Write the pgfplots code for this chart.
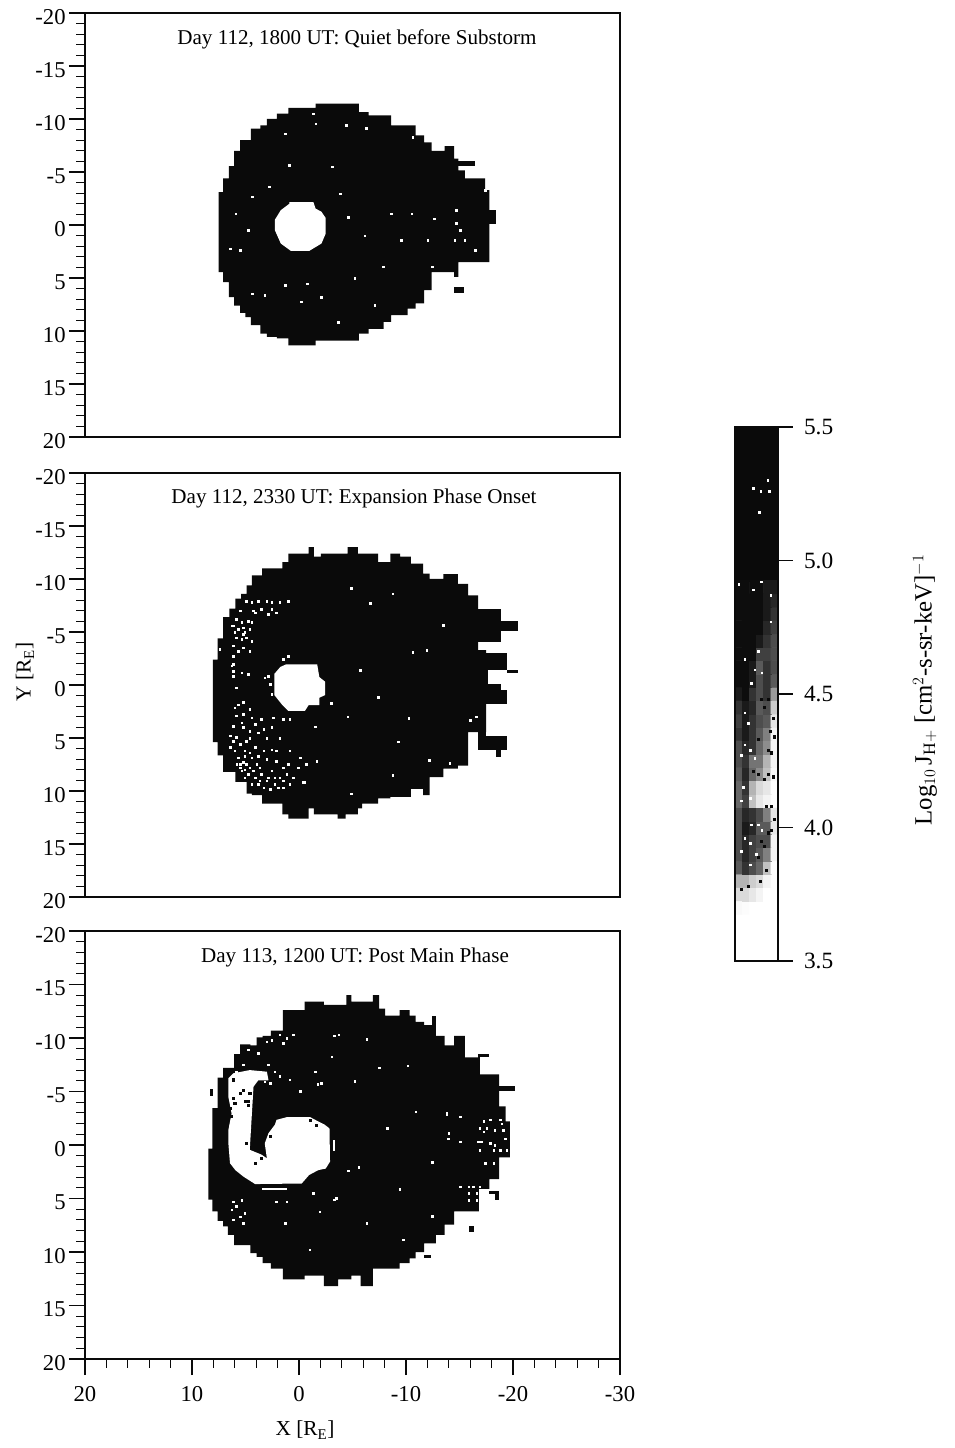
\documentclass[border=0pt]{standalone}
\usepackage{fontspec}
\setmainfont{Liberation Serif}
\usepackage{pgfplots}
\pgfplotsset{compat=1.18}
\definecolor{ink}{gray}{0.04}
\pgfplotsset{
  panel/.style={
    scale only axis, width=401.25pt, at={(63.75pt,0)}, anchor=south west,
    xmin=-30, xmax=20, ymin=-20, ymax=20, x dir=reverse, y dir=reverse,
    axis line style={line width=1.1pt, color=ink}, axis on top,
    ytick={-20,-15,-10,-5,0,5,10,15,20},
    yticklabels={-20,-15,-10,-5,0,5,10,15,20},
    minor y tick num=4,
    ytick pos=left,
    tick align=outside,
    major tick length=12pt, minor tick length=6.5pt,
    every tick/.style={ink, line width=0.8pt},
    minor tick style={ink, line width=0.8pt},
    tick label style={font=\fontsize{17}{17}\selectfont},
    yticklabel style={yshift=-3pt, xshift=1pt},
    clip=true},
  ox/.style={const plot, fill=ink, draw=none},
  rect/.style={fill=ink, draw=none},
  wh/.style={fill=white, draw=none},
  spk/.style={only marks, mark=square*, mark size=0.6pt, color=white, mark options={draw=none, fill=white}},
  dk/.style={only marks, mark=square*, mark size=0.8pt, color=ink, mark options={draw=none, fill=ink}}
}
\begin{document}
\begin{tikzpicture}
\path[use as bounding box] (0,0) rectangle (715.5pt,1086pt);

% ---------- Panel 1
\begin{axis}[panel, height=318pt, at={(63.75pt,758.25pt)}, xtick=\empty]
\addplot[ox] coordinates {(7.52,-3.1)(7.1,-4.4)(6.56,-5.55)(6.07,-7)(5.5,-8)(5,-8)(4.5,-9.1)(3.6,-9.4)(3,-10)(2.06,-10.5)(1,-11.05)(0.15,-11.05)(-1.56,-11.45)(-5.6,-10.65)(-6.5,-10.35)(-7.9,-10.35)(-8.6,-9.4)(-10.15,-9.4)(-10.9,-8.45)(-11.7,-7.8)(-12.4,-7)(-13.6,-7.45)(-14.5,-6.25)(-14.9,-5.15)(-15.5,-4.4)(-15.9,-4.4)(-17.4,-3.3)(-17.8,-3.3)
 (-17.8,3.5)(-17.4,3.5)(-15.9,3.5)(-15.5,3.5)(-14.9,4.9)(-14.5,4.45)(-13.6,4.45)(-12.4,6.15)(-11.7,7.4)(-10.9,7.9)(-10.15,8.5)(-8.6,9.15)(-7.9,9.8)(-6.5,10.25)(-5.6,10.9)(-1.56,11.35)(0.15,11.35)(1,10.7)(2.06,10.55)(3,10.25)(3.6,9.45)(4.5,8.7)(5,8.3)(5.5,7.6)(6.07,6.8)(6.56,5.4)(7.1,4.45)(7.52,2.4)} -- cycle;
\addplot[rect] coordinates {(-17.7,-1.4)(-18.4,-1.4)(-18.4,-0.1)(-17.7,-0.1)} -- cycle;
\addplot[rect] coordinates {(-14.9,-6)(-16.45,-6)(-16.45,-5.55)(-14.9,-5.55)} -- cycle;
\addplot[rect] coordinates {(-14.5,5.85)(-15.4,5.85)(-15.4,6.4)(-14.5,6.4)} -- cycle;
\addplot[wh] coordinates {(0.9,-2.15)(-1.35,-2.15)(-1.55,-1.55)(-2.1,-1.25)(-2.5,-0.65)(-2.5,0.8)(-2.1,1.75)(-0.95,2.45)(0.75,2.45)(1.7,1.75)(2.25,0.5)(2.25,-0.5)(1.7,-1.4)(0.9,-2)} -- cycle;
\addplot[spk] coordinates {(-10.65,-8.3)(-3.1,-5.5)(-3.85,-2.95)(0.9,-5.65)(3.2,6.65)(-0.8,5.55)(-5.2,5.05)(-6.15,1)(-4.6,-0.75)(-14.7,-1.4)(-17.4,-3.25)(-14.55,1.45)(-10.55,-1.05)(-12.65,-0.6)(-7.85,3.95)(-7.1,7.55)(-0.2,7.25)(6.45,2.25)(5.5,2.4)(4.75,0.5)(5.9,-1.05)(4.35,-2.65)(2.8,-3.6)(-1.55,-9.55)(-4.4,-9.4)(-6.3,-9.1)(-1.35,-10.5)(1.3,-8.6)(-16.45,2.4)(-15.1,0.5)(-15.5,1.45)(-9.55,1.45)(-12.45,3.95)(-3.65,9.15)(-2.1,6.8)(-12.05,1.45)(-8.6,-1.05)(-14.7,-0.15)(4.35,6.5)(1.3,5.7)};
\end{axis}

% ---------- Panel 2
\begin{axis}[panel, height=318pt, at={(63.75pt,413.25pt)}, xtick=\empty]
\addplot[ox] coordinates {(8.05,-2.4)(7.6,-4.4)(7.1,-6.4)(6.5,-7.2)(5.95,-8.15)(5.4,-8.6)(4.9,-9.4)(4.4,-10.35)(3.45,-11)(2.5,-11)(1.55,-11.6)(1,-12.4)(-0.55,-12.4)(-0.9,-13)(-1.4,-12.1)(-2.05,-12.4)(-3.6,-12.4)(-4.35,-12.4)(-4.55,-13)(-5.5,-12.4)(-5.9,-12.4)(-7.4,-11.6)(-8.55,-12.4)(-9.45,-12.1)(-10.45,-11.45)(-11.6,-10.5)(-12.2,-10)(-13.5,-10.45)(-14.85,-9.55)(-15.8,-8.45)(-16.75,-3.3)(-17.5,-3.3)
 (-17.5,4.45)(-16.75,4.45)(-15.8,7.6)(-14.85,7.9)(-13.5,8.7)(-12.2,10.4)(-11.6,9.8)(-10.45,10.55)(-9.45,10.55)(-8.55,10.7)(-7.4,11.2)(-5.9,11.65)(-5.5,12.2)(-4.55,12.2)(-4.35,12.6)(-3.6,12.2)(-2.05,12.2)(-1.4,11.65)(-0.9,12.6)(-0.55,12.6)(1,12.2)(1.55,11.2)(2.5,11.2)(3.45,10.4)(4.4,10.25)(4.9,9.15)(5.4,9.15)(5.95,8.2)(6.5,8.2)(7.1,6.65)(7.6,5.4)(8.05,2.8)} -- cycle;
\addplot[rect] coordinates {(-16.75,-7.2)(-18.85,-7.2)(-18.85,-4.05)(-16.75,-4.05)} -- cycle;
\addplot[rect] coordinates {(-18.85,-6)(-20.5,-6)(-20.5,-5.1)(-18.85,-5.1)} -- cycle;
\addplot[rect] coordinates {(-17.4,-3.05)(-19.4,-3.05)(-19.4,-1.45)(-17.4,-1.45)} -- cycle;
\addplot[rect] coordinates {(-19.4,-1.45)(-20.5,-1.45)(-20.5,-1.15)(-19.4,-1.15)} -- cycle;
\addplot[rect] coordinates {(-17.4,-3.05)(-17.7,-3.05)(-17.7,1.75)(-17.4,1.75)} -- cycle;
\addplot[rect] coordinates {(-17.6,-0.1)(-18.85,-0.1)(-18.85,1.75)(-17.6,1.75)} -- cycle;
\addplot[rect] coordinates {(-18.85,0.45)(-19.4,0.45)(-19.4,1.75)(-18.85,1.75)} -- cycle;
\addplot[rect] coordinates {(-17.4,1.7)(-17.5,1.7)(-17.5,4.5)(-17.4,4.5)} -- cycle;
\addplot[rect] coordinates {(-16.7,4.4)(-17.5,4.4)(-17.5,6.15)(-16.7,6.15)} -- cycle;
\addplot[rect] coordinates {(-17.5,4.8)(-19.4,4.8)(-19.4,6.15)(-17.5,6.15)} -- cycle;
\addplot[rect] coordinates {(-18.45,6.1)(-18.85,6.1)(-18.85,6.75)(-18.45,6.75)} -- cycle;
\addplot[wh] coordinates {(1.2,-1.95)(-1.7,-1.95)(-1.9,-0.75)(-2.45,-0.3)(-2.45,0.95)(-1.9,1.2)(-1.9,1.9)(-0.9,1.9)(-0.55,2.45)(1,2.45)(1.55,1.9)(2.3,0.95)(2.3,-1.05)(1.75,-1.7)} -- cycle;
\addplot[spk] coordinates {(4.9,-7.9)(4.4,-7.8)(3.8,-7.9)(3,-7.9)(2.55,-7.8)(1.8,-7.8)(1,-7.9)(5.5,-7)(4.25,-7)(2.85,-6.7)(2.1,-6.8)(6.15,-5.6)(5.7,-5.25)(5.2,-5.4)(4.6,-5.25)(5.35,-4.3)(4.9,-4.45)(6.15,-3.7)(5.2,-3.5)(4.6,-3.2)(6.15,-2.7)(6.3,-1.8)(6.15,-0.85)(5.35,-1.15)(5.85,0.25)(5.85,2.9)(5.2,2.75)(4.4,3.1)(6.15,3.9)(5.2,4)(4.6,4.35)(4.1,3.7)(6.15,5.3)(5.5,5.6)(4.9,5.3)(4.1,5.9)(5.7,6.85)(5.2,7.3)(4.6,7.8)(3.95,7.5)(5.35,8.1)(4.75,8.4)(4.1,8.75)(3.8,9.35)(3,9.05)(2.55,8.1)(1.8,8.75)(1.15,8.4)(0.85,9.35)(1.95,9.7)(2.7,9.85)(3.65,7.8)(3,7)(2.1,7.2)(1.45,7.8)(6.45,5.9)(6,6.2)(3.3,6.2)(2.55,6.1)(1.8,5)(-0.4,9.2)(-0.7,7.5)(-1.65,7.2)(-0.1,6.85)(0.85,6.2)(2.85,-0.85)(2.7,-0.05)(2.55,0.9)(3.2,-0.7)(1,-2.7)(1.45,-2.4)(0.85,3.25)(1.45,3.25)(2.4,3.1)(5.05,6.7)(5.8,7.5)(4.9,7.5)(4.4,6.85)(5.5,7.8)(5.05,8.75)(4.4,9.35)(3.65,9.05)(3.3,9.7)(2.25,8.75)(1.45,9.05)(5.2,-4.8)(6,-5)(4.75,-6)
 (6.45,4.8)(5.85,4.95)(4.6,5)(3.8,4.5)(3.3,4.2)(5.05,6.2)(4.6,6.4)(3.8,6.7)(5.5,7.5)(5.05,8)(4.25,8.1)(3.5,8.4)(2.85,8.75)(2.25,9.35)(1.45,9.7)(0.55,8.75)(0.05,7.8)(1,7.5)(2.1,6.2)(3,5)(2.55,4)(3.5,3.25)(5.35,3.55)(5.85,-6.2)(6.3,-5.6)(5.35,-5.9)(4.4,-5.9)(4.1,-6.8)(3.5,-7.15)(2.55,-7.15)(5.05,-4.95)(5.85,-4.45)(4.4,-4.15)(5.65,-3.2)(7.4,-3.35)(6.15,-1.95)(6.15,-1.3)(4.75,-1)(5.65,1.85)(5.2,1.65)(4.6,2.3)(6,2.15)
 (-11.95,-3.25)(-10.25,3.15)(-9.3,5.35)(-7.4,1.15)(-5.7,-1.4)(-4.9,-9.1)(-6.65,-7.7)(-13.5,-5.65)(-16.55,3)(-16,3.3)(-10.65,-3.1)(-4.55,3)(-3,1.75)(-0.55,9.15)(-8.75,8.5)(-14.1,7.4)(-8.75,-8.6)(-12.15,7.1)(-4.9,10.25)(-1.5,3.95)};
\end{axis}

% ---------- Panel 3
\begin{axis}[panel, height=321pt, at={(63.75pt,66.75pt)},
  xtick={-30,-20,-10,0,10,20}, xticklabels={-30,-20,-10,0,10,20},
  minor x tick num=4, xtick pos=bottom, xticklabel style={yshift=-5pt}]
\addplot[ox] coordinates {(8.47,0.35)(8.1,-3.45)(7.6,-6.3)(7.1,-7.2)(6.64,-7.2)(6.07,-8.5)(5.5,-9.4)(4.54,-9.3)(3.97,-10.05)(3.4,-10.2)(2.63,-10.7)(1.5,-12.6)(0.15,-12.6)(-0.53,-13.4)(-1.76,-13.4)(-2.33,-13.1)(-3.66,-13.1)(-4.43,-14)(-4.9,-13.4)(-5.76,-13.4)(-6.34,-13.4)(-6.9,-14)(-7.48,-12.75)(-8.05,-12.1)(-9.4,-12.6)(-10.34,-12.1)(-10.9,-11.5)(-11.7,-11.2)(-12.8,-10.2)(-13.6,-9.3)(-14.5,-10.2)(-15.5,-8.2)(-16.8,-6.6)(-17.8,-6.6)(-18.7,-3.6)(-19.3,-2.2)(-19.7,-2.2)
 (-19.7,1.15)(-19.3,1.15)(-18.7,3.2)(-17.8,4.1)(-16.8,6.2)(-15.5,6.2)(-14.5,7.45)(-13.6,8.4)(-12.8,9.2)(-11.7,10)(-10.9,10.6)(-10.34,11.05)(-9.4,11.55)(-8.05,11.55)(-7.48,11.55)(-6.9,13.2)(-6.34,13.2)(-5.76,12.2)(-4.9,12.55)(-4.43,12.55)(-3.66,13.2)(-2.33,12.2)(-1.76,12.2)(-0.53,12.55)(0.15,12.55)(1.5,11.55)(2.63,11.05)(3.4,10.45)(3.97,10.1)(4.54,9.35)(5.5,9.35)(6.07,8.4)(6.64,7.6)(7.1,7.1)(7.6,6.2)(8.1,5.1)(8.47,3.2)} -- cycle;
\addplot[rect] coordinates {(-18.7,-5.55)(-20.2,-5.55)(-20.2,-5.05)(-18.7,-5.05)} -- cycle;
\addplot[rect] coordinates {(-16.8,-8.5)(-17.8,-8.5)(-17.8,-8.2)(-16.8,-8.2)} -- cycle;
\addplot[rect] coordinates {(-16.7,-8.5)(-16.9,-8.5)(-16.9,-6.5)(-16.7,-6.5)} -- cycle;
\addplot[rect] coordinates {(-12.4,-12.1)(-12.8,-12.1)(-12.8,-11.1)(-12.4,-11.1)} -- cycle;
\addplot[rect] coordinates {(-17.8,4.3)(-18.7,4.3)(-18.7,4.6)(-17.8,4.6)} -- cycle;
\addplot[rect] coordinates {(-18.3,4.6)(-18.7,4.6)(-18.7,5.1)(-18.3,5.1)} -- cycle;
\addplot[rect] coordinates {(-15.9,7.6)(-16.4,7.6)(-16.4,8.1)(-15.9,8.1)} -- cycle;
\addplot[rect] coordinates {(-11.7,10.3)(-12.3,10.3)(-12.3,10.6)(-11.7,10.6)} -- cycle;
\addplot[rect] coordinates {(8.3,-5.2)(8,-5.2)(8,-4.6)(8.3,-4.6)} -- cycle;
\addplot[wh] coordinates {(6.6,-6.25)(6.15,-6.7)(4.6,-7)(3,-6.85)(2.85,-6.05)(3.8,-6.05)(4.25,-5.45)(4.4,-2.95)(4.6,0.45)(3.5,0.9)(3,1.25)(3.2,-0.15)(2.85,-1.1)(2.25,-1.9)(2.1,-2.35)(1.15,-2.6)(-1.05,-2.6)(-1.8,-2.2)(-2.4,-1.9)(-2.85,-1.55)(-2.9,1.55)(-2.5,2.2)(-1.8,2.35)(-0.95,2.8)(-0.25,3.6)(4.1,3.65)(5.2,2.95)(5.95,2.35)(6.45,1.7)(6.6,-0.15)(6.6,-1.4)(6.3,-2.95)(6.6,-4.5)} -- cycle;
\addplot[wh] coordinates {(3.5,4.05)(1.15,4.05)(1.15,4.25)(3.5,4.25)} -- cycle;
\addplot[wh] coordinates {(-3.2,-0.5)(-3.4,-0.5)(-3.4,0.6)(-3.2,0.6)} -- cycle;
\addplot[dk] coordinates {(6.15,-4.35)(6,-3.9)(6.45,-3.45)(5.05,-4.05)(4.75,-4.05)(4.9,-0.15)(5.5,-4.85)(4.6,-4.85)(2.7,-0.8)(3.8,0.45)(3.5,1.25)(4.1,1.7)(6.3,-2.65)(5.2,-5.15)(6.15,-6.1)(4.75,-3.75)(-1.65,-1.85)(-1.05,-2.35)};
\addplot[spk] coordinates {(1.8,-10.3)(1.15,-10)(0.55,-10.3)(1.45,-9.5)(2.55,-9.8)(3,-9.65)(4.75,-8.9)(3.8,-8.55)(2.85,-7.5)(5.2,-7.5)(5.85,-6.85)(2.25,-6.85)(1.8,-6.4)(0.85,-6.1)(-0.1,-5)(3.2,-5.9)(2.7,-5.75)(6.15,5.3)(5.85,5.75)(6.3,6.05)(5.5,6.7)(6.15,7)(5.2,7.3)(5.05,6.4)(5.35,5.15)(-2.1,-5.75)(-3.7,-10.3)(-1.5,-6.85)(-3.05,-8.25)(2.1,5.3)(1.15,5.3)(-1.95,6.25)(-3.5,5)(-1.35,4.5)
 (-17.25,-2.2)(-17.85,-2.35)(-18.8,-2.35)(-16.9,-1.55)(-17.55,-1.55)(-18.3,-1.4)(-19.1,-1.4)(-17.25,-1.25)(-18.95,-2)(-16.75,-0.3)(-17.05,-0.3)(-17.85,-0.15)(-18.3,0)(-18.8,0.5)(-19.4,0.5)(-18.2,0.5)(-16.9,0.5)(-17.4,1.7)(-18.2,1.7)(-15.05,3.9)(-15.85,3.9)(-16.3,3.9)(-16.9,3.9)(-15.85,4.5)(-16.6,4.5)(-15.85,5.15)(-16.6,5.15)(-13.8,-2.95)(-15.05,-2.65)(-19.25,-0.6)(-14,-1.1)(-15.05,-0.3)
 (-7.5,-7.2)(-13.8,-2.85)(-3.3,-10.2)(-6.35,-9.9)(-10.15,-7.4)(-10.9,-3.1)(-5.6,2.1)(-4.6,2.4)(-9.75,8.85)(-13.95,-0.6)(-9.4,4.15)(-12.45,6.65)(-6.35,7.3)(-3.3,5.1)(1.3,7.3)(-1,9.8)(-8.25,-1.55)(-1.75,-5.65)(-12.45,1.6)(-5.2,-5.95)};
\end{axis}

% ---------- Colour bar
\begin{axis}[scale only axis, width=32.25pt, height=400.5pt, at={(551.25pt,365.25pt)}, anchor=south west,
  xmin=0, xmax=1, ymin=3.5, ymax=5.5, xtick=\empty,
  ytick={3.5,4,4.5,5,5.5}, yticklabels={3.5,4.0,4.5,5.0,5.5},
  ytick pos=right, yticklabel pos=right, tick align=outside,
  major tick length=11pt, every tick/.style={ink, line width=0.8pt},
  tick label style={font=\fontsize{17.5}{17.5}\selectfont},
  yticklabel style={xshift=5pt},
  axis line style={line width=0.9pt, color=ink}, axis on top,
  colormap/blackwhite, point meta min=0, point meta max=1]
\addplot[rect] coordinates {(0,4.92)(1,4.92)(1,5.5)(0,5.5)} -- cycle;
\addplot[matrix plot*, mesh/cols=6, point meta=explicit] coordinates {
(.083,3.70)[.97](.25,3.70)[.98](.417,3.70)[1](.583,3.70)[1](.75,3.70)[1](.917,3.70)[1]
(.083,3.75)[.85](.25,3.75)[.85](.417,3.75)[.9](.583,3.75)[.95](.75,3.75)[1](.917,3.75)[1]
(.083,3.80)[.7](.25,3.80)[.7](.417,3.80)[.8](.583,3.80)[.85](.75,3.80)[.95](.917,3.80)[1]
(.083,3.85)[.35](.25,3.85)[.2](.417,3.85)[.3](.583,3.85)[.4](.75,3.85)[.75](.917,3.85)[1]
(.083,3.90)[.3](.25,3.90)[.15](.417,3.90)[.25](.583,3.90)[.35](.75,3.90)[.5](.917,3.90)[.95]
(.083,3.95)[.3](.25,3.95)[.15](.417,3.95)[.25](.583,3.95)[.3](.75,3.95)[.3](.917,3.95)[.95]
(.083,4.00)[.3](.25,4.00)[.1](.417,4.00)[.15](.583,4.00)[.35](.75,4.00)[.35](.917,4.00)[.9]
(.083,4.05)[.3](.25,4.05)[.15](.417,4.05)[.2](.583,4.05)[.3](.75,4.05)[.5](.917,4.05)[.9]
(.083,4.10)[.4](.25,4.10)[.25](.417,4.10)[.75](.583,4.10)[.9](.75,4.10)[.95](.917,4.10)[1]
(.083,4.15)[.4](.25,4.15)[.2](.417,4.15)[.7](.583,4.15)[.85](.75,4.15)[.9](.917,4.15)[1]
(.083,4.20)[.35](.25,4.20)[.15](.417,4.20)[.4](.583,4.20)[.55](.75,4.20)[.75](.917,4.20)[.97]
(.083,4.25)[.3](.25,4.25)[.2](.417,4.25)[.45](.583,4.25)[.45](.75,4.25)[.7](.917,4.25)[.95]
(.083,4.30)[.3](.25,4.30)[.15](.417,4.30)[.2](.583,4.30)[.4](.75,4.30)[.55](.917,4.30)[.95]
(.083,4.35)[.2](.25,4.35)[.1](.417,4.35)[.2](.583,4.35)[.35](.75,4.35)[.5](.917,4.35)[.95]
(.083,4.40)[.25](.25,4.40)[.1](.417,4.40)[.2](.583,4.40)[.3](.75,4.40)[.35](.917,4.40)[.9]
(.083,4.45)[.2](.25,4.45)[.1](.417,4.45)[.15](.583,4.45)[.35](.75,4.45)[.3](.917,4.45)[.8]
(.083,4.50)[.1](.25,4.50)[.05](.417,4.50)[.2](.583,4.50)[.3](.75,4.50)[.2](.917,4.50)[.6]
(.083,4.55)[.05](.25,4.55)[.05](.417,4.55)[.1](.583,4.55)[.3](.75,4.55)[.2](.917,4.55)[.35]
(.083,4.60)[.05](.25,4.60)[.05](.417,4.60)[.1](.583,4.60)[.35](.75,4.60)[.2](.917,4.60)[.3]
(.083,4.65)[.05](.25,4.65)[.05](.417,4.65)[.05](.583,4.65)[.25](.75,4.65)[.25](.917,4.65)[.3]
(.083,4.70)[.05](.25,4.70)[.05](.417,4.70)[.05](.583,4.70)[.1](.75,4.70)[.2](.917,4.70)[.3]
(.083,4.75)[.05](.25,4.75)[.05](.417,4.75)[.05](.583,4.75)[.05](.75,4.75)[.15](.917,4.75)[.25]
(.083,4.80)[.05](.25,4.80)[.05](.417,4.80)[.05](.583,4.80)[.05](.75,4.80)[.1](.917,4.80)[.2]
(.083,4.85)[.05](.25,4.85)[.05](.417,4.85)[.05](.583,4.85)[.05](.75,4.85)[.1](.917,4.85)[.15]
(.083,4.90)[.05](.25,4.90)[.05](.417,4.90)[.05](.583,4.90)[.05](.75,4.90)[.1](.917,4.90)[.1]
};
\addplot[dk] coordinates {(.62,3.95)(.69,3.93)(.77,3.98)(.85,3.99)(.54,3.89)(.73,3.84)(.31,3.78)(.15,3.77)(.58,3.8)(.77,4.2)(.88,4.19)(.69,4.18)(.54,4.2)(.54,4.33)(.77,4.29)(.85,4.28)(.42,4.21)(.88,4.41)(.92,4.34)(.81,4.36)(.69,4.45)(.62,4.48)(.77,4.48)(.92,4.03)(.85,4.08)(.73,4.08)};
\addplot[spk] coordinates {(.23,4.43)(.31,4.39)(.23,4.31)(.35,4.29)(.15,4.27)(.46,4.26)(.19,4.15)(.15,4.1)(.35,4.11)(.38,4.01)(.54,4.01)(.62,3.99)(.23,3.96)(.35,3.94)(.46,4.59)(.62,4.58)(.23,4.63)(.54,4.66)(.38,4.54)(.15,3.91)(.5,3.9)(.35,3.86)
 (.42,5.27)(.6,5.26)(.79,5.26)(.57,5.18)(.76,5.3)(.09,4.91)(.61,4.92)(.42,4.89)(.83,4.77)(.83,4.87)};
\end{axis}

% ---------- Text
\node[font=\fontsize{15.8}{16}\selectfont] at (267.75pt,1056.75pt) {Day 112, 1800 UT: Quiet before Substorm};
\node[font=\fontsize{15.8}{16}\selectfont] at (265.5pt,712.5pt) {Day 112, 2330 UT: Expansion Phase Onset};
\node[font=\fontsize{15.8}{16}\selectfont] at (266.25pt,368.25pt) {Day 113, 1200 UT: Post Main Phase};
\node[font=\fontsize{16}{16}\selectfont, rotate=90] at (18.75pt,582pt) {Y [R$_{\mathrm{E}}$]};
\node[font=\fontsize{16}{16}\selectfont] at (228.75pt,13.5pt) {X [R$_{\mathrm{E}}$]};
\node[font=\fontsize{18.6}{18.6}\selectfont, rotate=90] at (693.75pt,568.5pt) {Log$_{10}$\,J$_{\mathrm{H+}}$ [cm$^{2}$-s-sr-keV]$^{-1}$};
\end{tikzpicture}
\end{document}
